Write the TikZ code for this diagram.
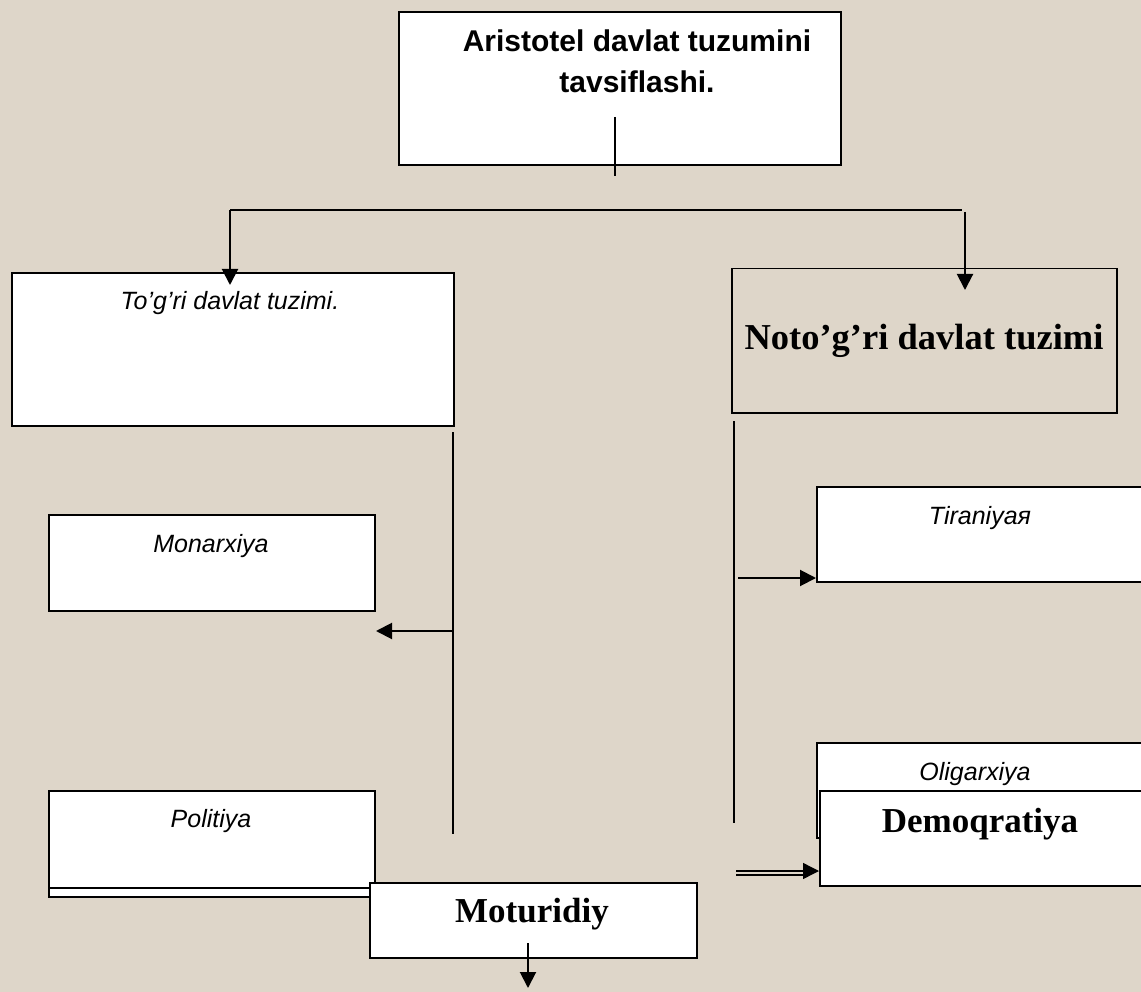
\documentclass[tikz,border=0pt]{standalone}
\usepackage{fontspec}
\setmainfont{Liberation Serif}
\setsansfont{Liberation Sans}
\usetikzlibrary{arrows.meta}
\definecolor{paper}{RGB}{222,214,201}

\begin{document}
\begin{tikzpicture}[x=1pt,y=-1pt,
		box/.style={draw,line width=2pt,fill=white,inner sep=0pt,anchor=north west},
		lab/.style={font=\sffamily\itshape\fontsize{25}{29}\selectfont},
		big/.style={font=\bfseries\fontsize{35}{40}\selectfont},
		ln/.style={line width=2pt},
		arr/.style={line width=2pt,-{Triangle[length=16pt,width=16pt]}}]
		\fill[paper] (0,0) rectangle (1141,992);
		\useasboundingbox (0,0) rectangle (1141,992);
		
		% title
		\node[box,minimum width=442pt,minimum height=153pt] (title) at (398,11) {};
		\node[font=\sffamily\bfseries\fontsize{30}{41}\selectfont,align=center] (title-t) at (637,61) {Aristotel davlat tuzumini\\tavsiflashi.};
		\coordinate (t-a) at (615,117);
		\coordinate (t-b) at (615,176);
		\draw[line width=1.5pt] (t-a) -- (t-b);
		
		% two branches
		\node[box,minimum width=442pt,minimum height=153pt] (togri) at (11,272) {};
		\node[lab] (togri-t) at (230,303) {To’g’ri davlat tuzimi.};
		\node[box,fill=none,line width=1.5pt,minimum width=385pt,minimum height=144pt] (noto) at (731,268) {};
		\node[big,font=\bfseries\fontsize{36.5}{40}\selectfont] (noto-t) at (924,341) {Noto’g’ri davlat tuzimi};
		
		\coordinate (bl) at (230,210);
		\coordinate (br) at (962,210);
		\coordinate (br2) at (965,212);
		\draw[ln] (bl) -- (br);
		\draw[arr] (bl) -- ([yshift=-13pt]togri.north -| bl);
		\draw[arr] (br2) -- ([yshift=-22pt]noto.north -| br2);
		
		% left column
		\node[box,minimum width=326pt,minimum height=96pt] (monarx) at (48,514) {};
		\node[lab] (monarx-t) at (211,546) {Monarxiya};
		\node[box,minimum width=326pt,minimum height=106pt] (polit) at (48,790) {};
		\draw[ln] ([yshift=10pt]polit.south west) -- ([yshift=10pt]polit.south east);
		\node[lab] (polit-t) at (211,821) {Politiya};
		
		\coordinate (l-a) at (453,432);
		\coordinate (l-b) at (453,834);
		\coordinate (l-m) at (453,631);
		\draw[ln] (l-a) -- (l-b);
		\draw[arr] (l-m) -- (monarx.east |- l-m);
		
		% right column
		\node[box,minimum width=340pt,minimum height=95pt] (tiran) at (816,486) {};
		\node[lab] (tiran-t) at (980,518) {Tiraniyaя};
		\node[box,minimum width=340pt,minimum height=95pt] (oligar) at (816,742) {};
		\node[lab] (oligar-t) at (975,774) {Oligarxiya};
		\node[box,minimum width=340pt,minimum height=95pt] (demo) at (819,790) {};
		\node[big] (demo-t) at (980,824) {Demoqratiya};
		
		\coordinate (r-a) at (734,421);
		\coordinate (r-b) at (734,823);
		\coordinate (r-t) at (738,578);
		\coordinate (r-d) at (736,873);
		\draw[ln] (r-a) -- (r-b);
		\draw[arr] (r-t) -- (tiran.west |- r-t);
		\draw[arr,line width=1.4pt] ([yshift=2pt]r-d) -- ([yshift=2pt]demo.west |- r-d);
		\draw[line width=1.4pt] ([yshift=-2pt]r-d) -- ([xshift=-12pt,yshift=-2pt]demo.west |- r-d);
		
		% bottom
		\node[box,minimum width=327pt,minimum height=75pt] (motur) at (369,882) {};
		\node[big] (motur-t) at (532,914) {Moturidiy};
		\coordinate (m-a) at (528,943);
		\coordinate (m-b) at (528,988);
		\draw[arr] (m-a) -- (m-b);
\end{tikzpicture}
\end{document}
